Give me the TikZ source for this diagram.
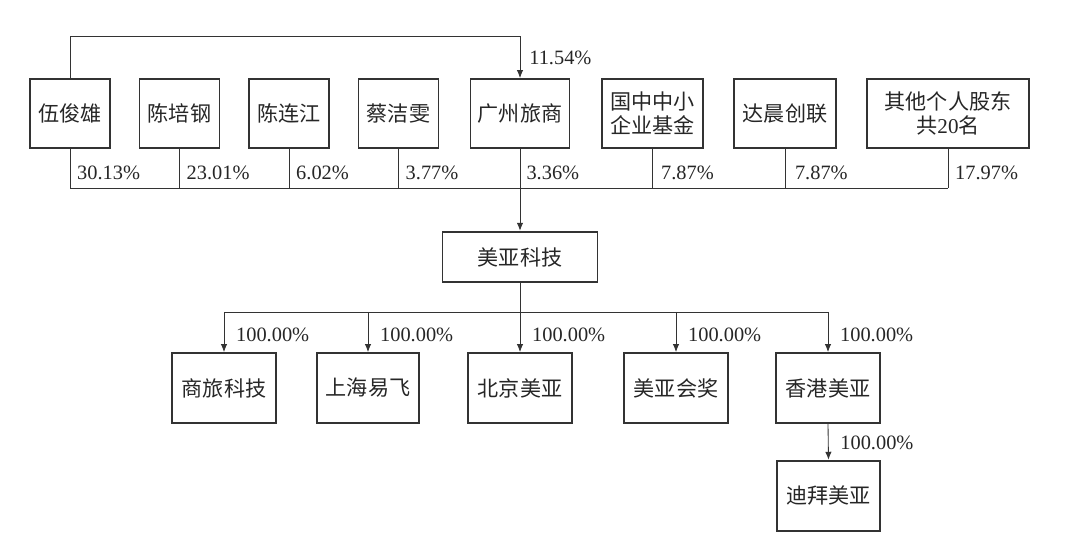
\documentclass[tikz,border=0pt]{standalone}
\usepackage{fontspec}
\setmainfont{Liberation Serif}
\newfontfamily\cjk{Noto Sans CJK SC}
\usetikzlibrary{arrows.meta}

\tikzset{
  holder/.style={draw=black!80, line width=1.3pt, minimum height=1.725cm, inner sep=2pt,
    font=\cjk\fontsize{15}{17}\selectfont, text=black!85, align=center},
  pct/.style={font=\fontsize{14.5}{17}\selectfont, text=black!85},
  link/.style={draw=black!80, line width=0.6pt},
  arr/.style={link, -{Latex[length=2mm, width=1.6mm]}},
}

\begin{document}
\begin{tikzpicture}[x=0.025cm, y=-0.025cm]
\useasboundingbox (0,0) rectangle (1080,537);

% Shareholders
\node[holder, minimum width=2cm] (wu) at (70,113.5) {伍俊雄};
\node[holder, minimum width=2cm] (cpg) at (179.5,113.5) {陈培钢};
\node[holder, minimum width=2cm] (clj) at (289,113.5) {陈连江};
\node[holder, minimum width=2cm] (cjw) at (398.5,113.5) {蔡洁雯};
\node[holder, minimum width=2.475cm] (gzls) at (520,113.5) {广州旅商};
\node[holder, minimum width=2.525cm] (fund) at (652.5,113.5) {国中中小\\企业基金};
\node[holder, minimum width=2.55cm] (dccl) at (785,113.5) {达晨创联};
\node[holder, minimum width=4.05cm] (others) at (948,113.5) {其他个人股东\\共{\rmfamily 20}名};

% Issuer
\node[holder, minimum width=3.875cm, minimum height=1.265cm] (meiya) at (520,257) {美亚科技};

% Subsidiaries
\node[holder, minimum width=2.6cm, minimum height=1.75cm] (sljk) at (224,388) {商旅科技};
\node[holder, minimum width=2.56cm, minimum height=1.75cm] (shyf) at (368,388) {上海易飞};
\node[holder, minimum width=2.6cm, minimum height=1.75cm] (bjmy) at (520,388) {北京美亚};
\node[holder, minimum width=2.6cm, minimum height=1.75cm] (myhj) at (676,388) {美亚会奖};
\node[holder, minimum width=2.6cm, minimum height=1.75cm] (hkmy) at (828,388) {香港美亚};
\node[holder, minimum width=2.58cm, minimum height=1.75cm] (dbmy) at (828.5,495.7) {迪拜美亚};

\coordinate (bus) at (70,188);
\coordinate (sub) at (224,312);

% Wu -> Guangzhou
\draw[arr] (wu.north) -- ++(0,-42) -| node[pos=0.76, right=3pt, pct] {11.54\%} (gzls.north);

% Stakes in the issuer
\draw[link] (wu.south) -- node[pos=0.6, right=1.5pt, pct] {30.13\%} (wu.south |- bus);
\draw[link] (cpg.south) -- node[pos=0.6, right=1.5pt, pct] {23.01\%} (cpg.south |- bus);
\draw[link] (clj.south) -- node[pos=0.6, right=1.5pt, pct] {6.02\%} (clj.south |- bus);
\draw[link] (cjw.south) -- node[pos=0.6, right=1.5pt, pct] {3.77\%} (cjw.south |- bus);
\draw[link] (fund.south) -- node[pos=0.6, right=2.5pt, pct] {7.87\%} (fund.south |- bus);
\draw[link] (dccl.south) -- node[pos=0.6, right=3.5pt, pct] {7.87\%} (dccl.south |- bus);
\draw[link] (others.south) -- node[pos=0.6, right=1.5pt, pct] {17.97\%} (others.south |- bus);
\draw[link] (wu.south |- bus) -- (others.south |- bus);
\draw[arr] (gzls.south) -- node[pos=0.287, right=1pt, pct] {3.36\%} (meiya.north);

% Issuer -> subsidiaries
\draw[link] (sljk.north |- sub) -- (hkmy.north |- sub);
\draw[arr] (sljk.north |- sub) -- node[pos=0.56, right=5pt, pct] {100.00\%} (sljk.north);
\draw[arr] (shyf.north |- sub) -- node[pos=0.56, right=5pt, pct] {100.00\%} (shyf.north);
\draw[arr] (meiya.south) -- node[pos=0.745, right=5pt, pct] {100.00\%} (bjmy.north);
\draw[arr] (myhj.north |- sub) -- node[pos=0.56, right=5pt, pct] {100.00\%} (myhj.north);
\draw[arr] (hkmy.north |- sub) -- node[pos=0.56, right=5pt, pct] {100.00\%} (hkmy.north);
\draw[arr] (hkmy.south) -- node[pos=0.53, right=5pt, pct] {100.00\%} (dbmy.north);
\end{tikzpicture}
\end{document}
